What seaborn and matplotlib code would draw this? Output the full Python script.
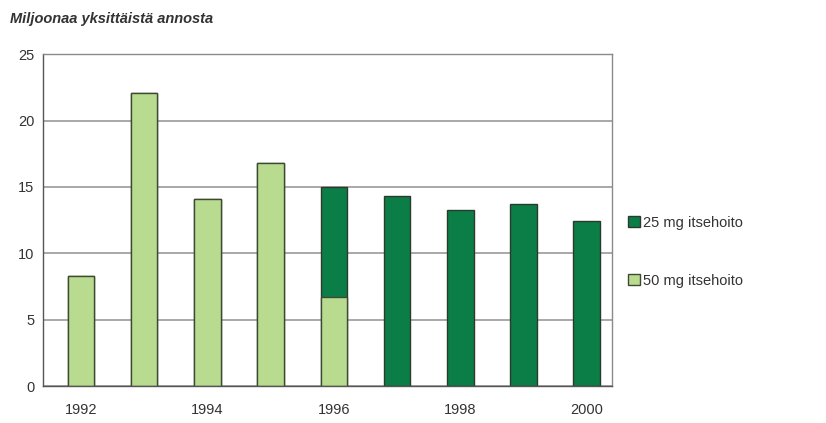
import numpy as np
import matplotlib
matplotlib.use("Agg")
import matplotlib.pyplot as plt
import seaborn as sns
import pandas as pd
from matplotlib.patches import Patch

years = ["1992", "1993", "1994", "1995", "1996", "1997", "1998", "1999", "2000"]
mg50 = [8.3, 22.1, 14.1, 16.8, 6.7, 0, 0, 0, 0]
mg25 = [0, 0, 0, 0, 8.3, 14.3, 13.3, 13.7, 12.4]
tick_labels = ["1992", "", "1994", "", "1996", "", "1998", "", "2000"]

light = "#b9db8f"
dark = "#0b7d47"

df = pd.DataFrame({"year": years, "mg50": mg50, "mg25": mg25})
df["total"] = df["mg50"] + df["mg25"]

sns.set_style("white")
plt.rcParams['font.family'] = ['Liberation Sans', 'DejaVu Sans']

fig = plt.figure(figsize=(8.26, 4.23), dpi=100)
ax = fig.add_axes([0.052, 0.087, 0.689, 0.785])

# stacked bars: draw totals in dark, then the 50 mg part over them
sns.barplot(data=df, x="year", y="total", color=dark, width=0.42,
            edgecolor="#2b3a2b", linewidth=1.0, saturation=1, ax=ax)
sns.barplot(data=df, x="year", y="mg50", color=light, width=0.42,
            edgecolor="#3d4a33", linewidth=1.0, saturation=1, ax=ax)

ax.set_ylim(0, 25)
ax.set_xlim(-0.6, 8.4)
ax.set_yticks([0, 5, 10, 15, 20, 25])
ax.yaxis.grid(True, color="#9a9a9a", linewidth=1.2)
ax.set_axisbelow(True)
ax.set_xticks(range(len(years)))
ax.set_xticklabels(tick_labels)
ax.set_xlabel("")
ax.set_ylabel("")
ax.tick_params(axis="y", labelsize=10.5, colors="#333333", length=0, pad=6)
ax.tick_params(axis="x", labelsize=10.5, colors="#333333", length=0, pad=12)
for s in ax.spines.values():
    s.set_color("#8a8a8a")
    s.set_linewidth(1.0)
ax.spines["left"].set_color("#555555")
ax.spines["bottom"].set_color("#555555")

fig.text(0.012, 0.955, "Miljoonaa yksittäistä annosta", fontsize=10.5,
         style="italic", weight="bold", color="#333333", va="center")

handles = [Patch(facecolor=dark, edgecolor="#2b3a2b", label="25 mg itsehoito"),
           Patch(facecolor=light, edgecolor="#3d4a33", label="50 mg itsehoito")]
fig.legend(handles=handles, loc="center left", bbox_to_anchor=(0.745, 0.405),
           frameon=False, fontsize=10.5, handlelength=0.8, handleheight=0.8,
           handletextpad=0.2, labelspacing=3.0, labelcolor="#333333")

fig.savefig("out.png", dpi=100)
